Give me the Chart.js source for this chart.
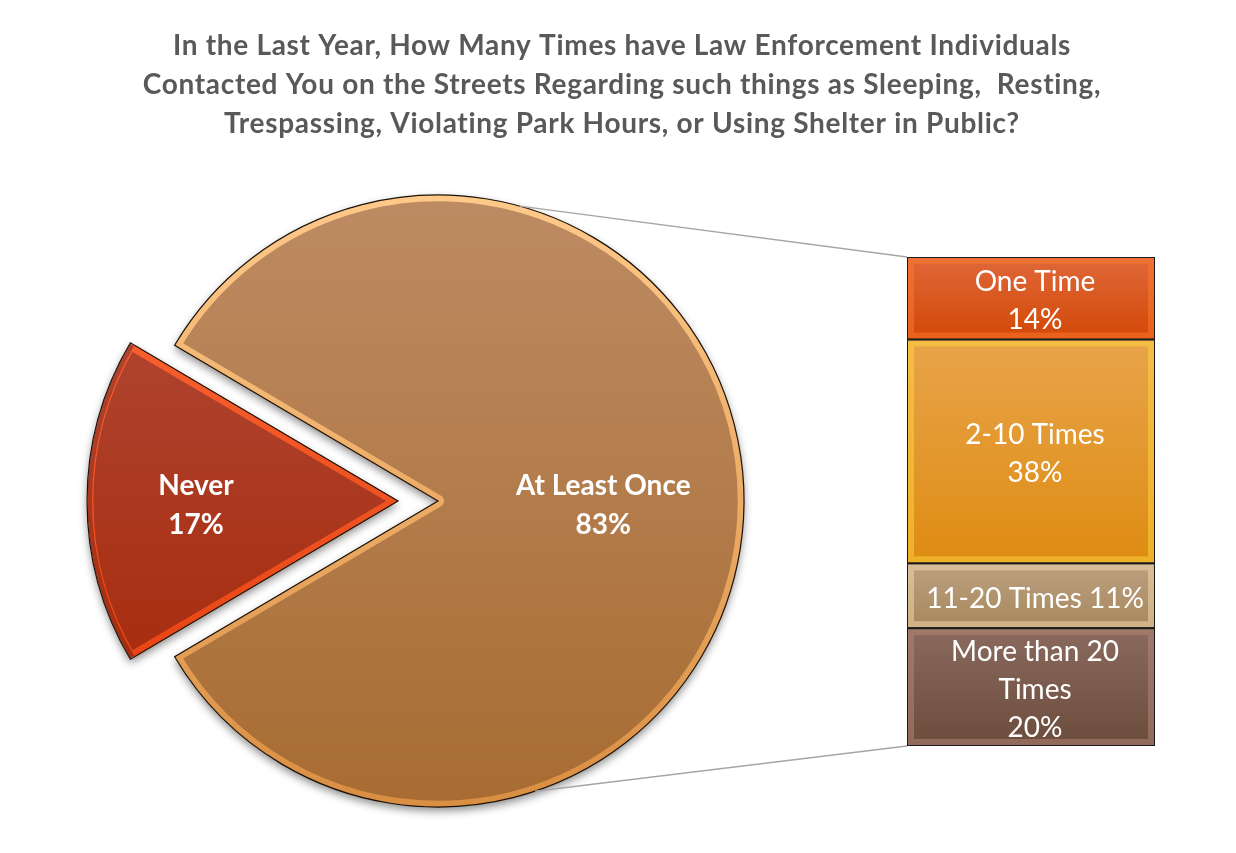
<!DOCTYPE html>
<html>
<head>
<meta charset="utf-8">
<title>Law Enforcement Contacts</title>
<script src="https://cdn.jsdelivr.net/npm/chart.js@4"></script>
<style>
  body { margin: 0; background: #fff; }
  #wrap { position: relative; width: 1236px; height: 853px; }
  #pie { position: absolute; left: 0; top: 0; }
  #bar { position: absolute; left: 903px; top: 253px; }
</style>
</head>
<body>
<div id="wrap">
  <canvas id="pie" width="1236" height="853"></canvas>
  <canvas id="bar" width="256" height="497"></canvas>
</div>
<script>
// dades
const titleLines = [
  "In the Last Year, How Many Times have Law Enforcement Individuals",
  "Contacted You on the Streets Regarding such things as Sleeping,  Resting,",
  "Trespassing, Violating Park Hours, or Using Shelter in Public?"
];
const pieLabels = ["At Least Once", "Never"];
const pieValues = [83, 17];
const barLabels = [["One Time", "14%"], ["2-10 Times", "38%"], ["11-20 Times 11%"], ["More than 20", "Times", "20%"]];
const barValues = [14, 38, 11, 20];

// estils
const pieTop = ["#bd8b63", "#b24e3e"];
const pieBottom = ["#a86c32", "#a42200"];
const rimTop = ["#ffc98a", "#ff6a3a"];
const rimBottom = ["#d98e42", "#e03a08"];
const barTop = ["#e0683a", "#e8a44a", "#bba081", "#8a6a5e"];
const barBottom = ["#d24806", "#de8c12", "#a8885c", "#6c4c3c"];
const barRim = ["#ff7a30", "#ffd640", "#f6dcae", "#b88878"];
const R = 306;
const explode = [0, 40]; // px

Chart.defaults.font.family = "Lato, 'Open Sans', sans-serif";

// barra de la dreta
const barChart = new Chart(document.getElementById("bar"), {
  type: "bar",
  data: {
    labels: [""],
    datasets: barValues.map((v, i) => ({
      label: barLabels[i].join(" "),
      data: [v],
      barPercentage: 1,
      categoryPercentage: 1,
      borderWidth: 1,
      borderColor: "#1a1a1a",
      borderSkipped: false,
      backgroundColor: (c) => {
        const y = c.chart.scales.y;
        if (!y || !c.chart.chartArea) return barTop[i];
        const start = barValues.slice(0, i).reduce((a, b) => a + b, 0);
        const y0 = y.getPixelForValue(start), y1 = y.getPixelForValue(start + v);
        if (!isFinite(y0) || !isFinite(y1)) return barTop[i];
        const g = c.chart.ctx.createLinearGradient(0, y0, 0, y1);
        g.addColorStop(0, barTop[i]);
        g.addColorStop(1, barBottom[i]);
        return g;
      }
    }))
  },
  options: {
    responsive: false,
    animation: false,
    layout: { padding: 4 },
    plugins: { legend: { display: false }, tooltip: { enabled: false } },
    scales: {
      x: { display: false, stacked: true },
      y: { display: false, stacked: true, min: 0, max: 83, reverse: true }
    }
  },
  plugins: [{
    id: "barText",
    afterDatasetsDraw(chart) {
      const ctx = chart.ctx;
      ctx.save();
      chart.data.datasets.forEach((ds, i) => {
        const el = chart.getDatasetMeta(i).data[0];
        const left = el.x - el.width / 2, top = Math.min(el.y, el.base), h = Math.abs(el.base - el.y);
        // bisell
        ctx.strokeStyle = barRim[i];
        ctx.globalAlpha = 0.5;
        ctx.lineWidth = 6;
        ctx.strokeRect(left + 4, top + 4, el.width - 8, h - 8);
        ctx.globalAlpha = 1;
        ctx.strokeStyle = "#1a1a1a";
        ctx.lineWidth = 1;
        ctx.strokeRect(left + 0.5, top + 0.5, el.width - 1, h - 1);
        // text
        ctx.fillStyle = "#fff";
        ctx.font = "28px Lato, 'Open Sans', sans-serif";
        ctx.textAlign = "center";
        ctx.textBaseline = "middle";
        const lines = barLabels[i];
        const lh = 38;
        const cy = top + h / 2 + 3;
        lines.forEach((t, k) => {
          ctx.fillText(t, el.x + 4, cy + (k - (lines.length - 1) / 2) * lh);
        });
      });
      ctx.restore();
    }
  }]
});

function arcPath(ctx, el, off) {
  const mid = (el.startAngle + el.endAngle) / 2;
  const dx = Math.cos(mid) * off, dy = Math.sin(mid) * off;
  const circ = el.endAngle - el.startAngle;
  const r = el.outerRadius + off * (1 - Math.sin(Math.min(Math.PI, circ)));
  ctx.beginPath();
  ctx.moveTo(el.x + dx, el.y + dy);
  ctx.arc(el.x + dx, el.y + dy, r, el.startAngle, el.endAngle);
  ctx.closePath();
}

function pieGradient(c, top, bottom) {
  const a = c.chart.chartArea;
  if (!a || !isFinite(a.top) || !isFinite(a.bottom)) return top[c.dataIndex];
  const cy = (a.top + a.bottom) / 2;
  const g = c.chart.ctx.createLinearGradient(0, cy - R, 0, cy + R);
  g.addColorStop(0, top[c.dataIndex]);
  g.addColorStop(1, bottom[c.dataIndex]);
  return g;
}

// pastís
const pieChart = new Chart(document.getElementById("pie"), {
  type: "pie",
  data: {
    labels: pieLabels,
    datasets: [{
      data: pieValues,
      offset: explode.map(e => e * 4), // chart.js v4 divideix l'offset per 4
      radius: R,
      borderWidth: 6,
      borderAlign: "inner",
      backgroundColor: (c) => pieGradient(c, pieTop, pieBottom),
      borderColor: (c) => pieGradient(c, rimTop, rimBottom)
    }]
  },
  options: {
    responsive: false,
    animation: false,
    rotation: 90 - 0.83 * 180,
    layout: { padding: { left: 0, right: 360, top: 149, bottom: 0 } },
    plugins: { legend: { display: false }, tooltip: { enabled: false } }
  },
  plugins: [{
    id: "pieExtras",
    beforeDatasetsDraw(chart) {
      const ctx = chart.ctx;
      const meta = chart.getDatasetMeta(0);
      ctx.save();
      ctx.shadowColor = "rgba(0,0,0,0.45)";
      ctx.shadowBlur = 8;
      ctx.shadowOffsetY = 4;
      ctx.fillStyle = "#fff";
      meta.data.forEach((el, i) => {
        arcPath(ctx, el, explode[i]);
        ctx.fill();
      });
      ctx.restore();
    },
    afterDatasetsDraw(chart) {
      const ctx = chart.ctx;
      const meta = chart.getDatasetMeta(0);
      ctx.save();
      // contorn
      ctx.strokeStyle = "#1e1208";
      ctx.lineWidth = 1.2;
      meta.data.forEach((el, i) => {
        arcPath(ctx, el, explode[i]);
        ctx.stroke();
      });
      // etiquetes
      const labelPos = [0.54, 0.66];
      ctx.fillStyle = "#fff";
      ctx.font = "bold 28px Lato, 'Open Sans', sans-serif";
      ctx.textAlign = "center";
      ctx.textBaseline = "middle";
      meta.data.forEach((el, i) => {
        const mid = (el.startAngle + el.endAngle) / 2;
        const d = explode[i] + el.outerRadius * labelPos[i];
        const x = el.x + Math.cos(mid) * d, y = el.y + Math.sin(mid) * d;
        ctx.fillText(pieLabels[i], x, y - 15);
        ctx.fillText(pieValues[i] + "%", x, y + 24);
      });
      // línies de connexió cap a la barra
      const bc = barChart.canvas;
      const bm = barChart.getDatasetMeta(0).data[0];
      const lm = barChart.getDatasetMeta(barValues.length - 1).data[0];
      const bx = bc.offsetLeft + bm.x - bm.width / 2;
      const el = meta.data[0];
      const a1 = -74.5 * Math.PI / 180, a2 = 71.5 * Math.PI / 180;
      ctx.strokeStyle = "#a6a6a6";
      ctx.lineWidth = 1.5;
      ctx.beginPath();
      ctx.moveTo(el.x + Math.cos(a1) * R, el.y + Math.sin(a1) * R);
      ctx.lineTo(bx, bc.offsetTop + Math.min(bm.y, bm.base));
      ctx.moveTo(el.x + Math.cos(a2) * R, el.y + Math.sin(a2) * R);
      ctx.lineTo(bx, bc.offsetTop + Math.max(lm.y, lm.base));
      ctx.stroke();
      ctx.restore();
    },
    afterDraw(chart) {
      const ctx = chart.ctx;
      ctx.save();
      ctx.fillStyle = "#595959";
      ctx.font = "bold 28px Lato, 'Open Sans', sans-serif";
      ctx.letterSpacing = "0.7px";
      ctx.textAlign = "center";
      ctx.textBaseline = "middle";
      titleLines.forEach((t, k) => ctx.fillText(t, 622, 46 + k * 39));
      ctx.restore();
    }
  }]
});
</script>
</body>
</html>
